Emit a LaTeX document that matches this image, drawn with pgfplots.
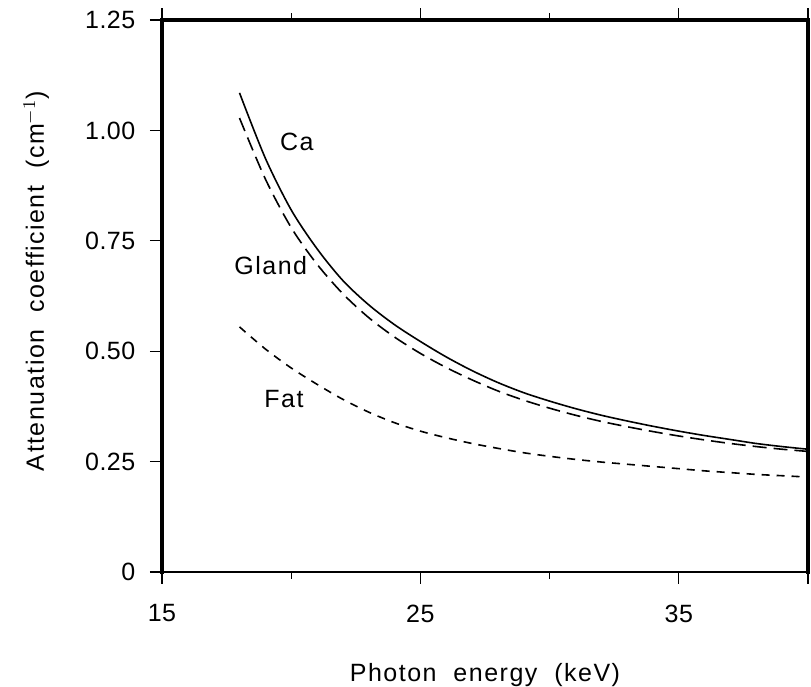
\documentclass[border=0pt]{standalone}
\usepackage{pgfplots}
\pgfplotsset{compat=1.18}
\usepackage{fontspec}
\setmainfont[LetterSpace=6,WordSpace=2]{Liberation Sans}
\newfontfamily\tickfont[LetterSpace=2]{Liberation Sans}

\pgfplotstableread{
E    mu
18   1.085
19   0.937
20   0.820
21   0.732
22   0.660
23   0.605
24   0.560
25   0.522
26   0.487
27   0.456
28   0.429
29   0.406
30   0.387
31   0.370
32   0.355
33   0.342
34   0.330
35   0.319
36   0.309
37   0.300
38   0.291
39   0.284
40   0.278
}\caData

\pgfplotstableread{
E    mu
18   1.028
19   0.890
20   0.780
21   0.697
22   0.630
23   0.576
24   0.532
25   0.495
26   0.463
27   0.435
28   0.410
29   0.389
30   0.371
31   0.355
32   0.341
33   0.329
34   0.318
35   0.308
36   0.299
37   0.291
38   0.284
39   0.278
40   0.273
}\glandData

\pgfplotstableread{
E    mu
18   0.555
19   0.505
20   0.462
21   0.425
22   0.391
23   0.362
24   0.338
25   0.319
26   0.304
27   0.291
28   0.280
29   0.270
30   0.262
31   0.255
32   0.249
33   0.244
34   0.239
35   0.234
36   0.229
37   0.225
38   0.221
39   0.218
40   0.215
}\fatData

\begin{document}
\fontsize{12.5}{14}\selectfont
\begin{tikzpicture}
\useasboundingbox (-81pt,-57.5pt) rectangle (324.5pt,286pt);
\begin{axis}[
  at={(0,0)}, anchor=south west,
  scale only axis,
  width=323pt, height=276pt,
  xmin=15, xmax=40, ymin=0, ymax=1.25,
  xtick={15,25,35,40},
  xticklabels={15,25,35,{}},
  minor xtick={20,30},
  ytick={0,0.25,0.5,0.75,1,1.25},
  yticklabels={0,0.25,0.50,0.75,1.00,1.25},
  xtick pos=both, ytick pos=left,
  tick align=outside,
  major tick length=6pt,
  minor tick length=3.5pt,
  tick style={black, line width=0.6pt},
  axis line style={line width=0.7pt},
  /pgf/number format/assume math mode=true,
  ticklabel style={font=\tickfont\fontsize{12.5}{14}\selectfont},
  xticklabel style={yshift=-6pt},
  yticklabel style={xshift=-3pt},
  xlabel={Photon energy (keV)},
  ylabel={Attenuation coefficient (cm$^{-1}$)},
  xlabel style={yshift=-12pt},
  ylabel style={at={(ticklabel cs:0.527)}, yshift=9.5pt},
  clip=false,
]
\addplot[black, line width=0.8pt, solid, smooth] table[x=E,y=mu] {\caData};
\addplot[black, line width=0.8pt, smooth, dash pattern=on 7pt off 3.5pt] table[x=E,y=mu] {\glandData};
\addplot[black, line width=0.8pt, smooth, dash pattern=on 4pt off 3.5pt] table[x=E,y=mu] {\fatData};
\node at (axis cs:20.22,0.974) {Ca};
\node at (axis cs:19.21,0.695) {Gland};
\node at (axis cs:19.72,0.392) {Fat};
\draw[line width=2pt, line cap=rect] (rel axis cs:0,0) -- (rel axis cs:0,1) -- (rel axis cs:1,1) -- (rel axis cs:1,0);
\end{axis}
\end{tikzpicture}
\end{document}
